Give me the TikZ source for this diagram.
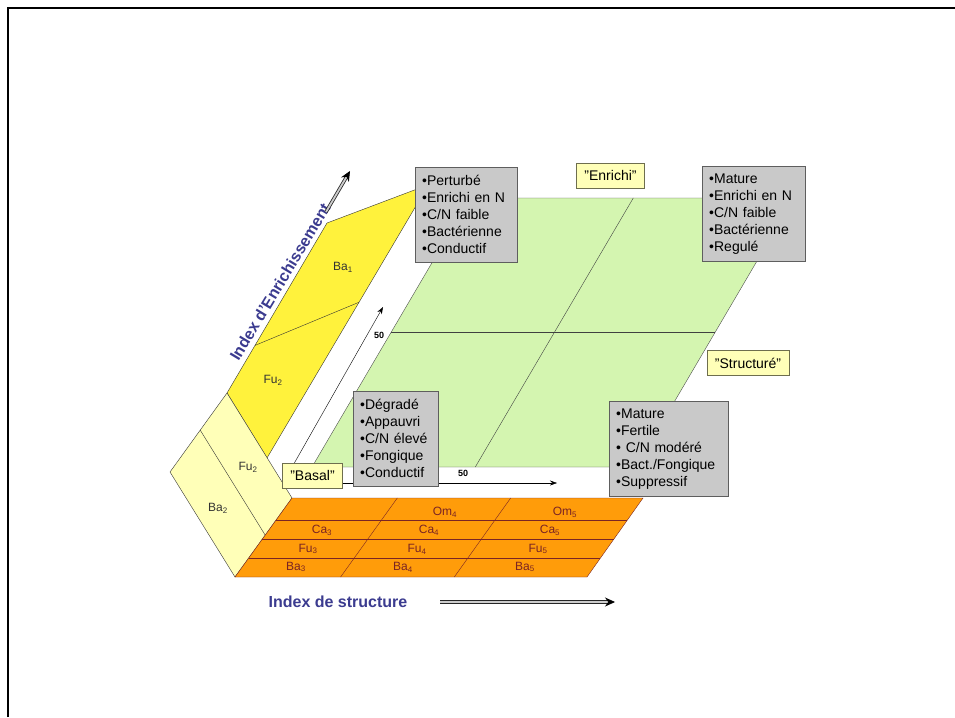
\documentclass[tikz,border=0pt]{standalone}
\usepackage{fontspec}
\setmainfont{Liberation Sans}
\usetikzlibrary{arrows.meta,calc}
\definecolor{planegreen}{HTML}{D4F5B0}
\definecolor{brightyellow}{HTML}{FFF23C}
\definecolor{paleyellow}{HTML}{FFFFB8}
\definecolor{floororange}{HTML}{FF9C0A}
\definecolor{maroonline}{HTML}{7A2424}
\definecolor{boxfill}{HTML}{C9C9C9}
\definecolor{boxedge}{HTML}{5E5E5E}
\definecolor{tagedge}{HTML}{6E6E4E}
\definecolor{indexblue}{HTML}{3B3B8F}

\tikzset{
  infobox/.style={draw=boxedge, fill=boxfill, anchor=north west, align=left,
    text width=#1, inner xsep=7pt, minimum height=95pt,
    font=\fontsize{14}{17}\selectfont},
  tagbox/.style={draw=tagedge, fill=paleyellow, inner xsep=8pt,
    minimum height=25pt, font=\fontsize{14}{17}\selectfont},
  celllabel/.style={text=maroonline, font=\fontsize{12}{14}\selectfont},
  facelabel/.style={text=black!80, font=\fontsize{12}{14}\selectfont},
  scalelabel/.style={font=\bfseries\fontsize{9}{10}\selectfont},
  indexlabel/.style={text=indexblue, font=\bfseries\fontsize{16}{18}\selectfont},
  indexarrow/.style={draw=black!85, double=gray!40, double distance=1.8pt,
    line width=0.8pt, -{Stealth[length=10pt,width=9pt,black]}},
}

\begin{document}
\begin{tikzpicture}[x=1pt,y=-1pt]
  \useasboundingbox (0,0) rectangle (955,717);
  % slide frame, only left and top edges show
  \draw[line width=2.5pt] (8,717) -- (8,8) -- (955,8);

  % green plane (top face)
  \coordinate (gBL) at (312,467);
  \coordinate (gBR) at (636,467);
  \coordinate (gTR) at (794,198);
  \coordinate (gTL) at (470,198);
  \filldraw[fill=planegreen, draw=black!70] (gBL) -- (gBR) -- (gTR) -- (gTL) -- cycle;
  \draw[black!75] ($(gBL)!.5!(gTL)$) -- ($(gBR)!.5!(gTR)$);
  \draw[black!75] ($(gBL)!.504!(gBR)$) -- ($(gTL)!.504!(gTR)$);

  % bright yellow face (Ba1 / Fu2)
  \coordinate (yB) at (227,393);
  \coordinate (yR) at (267,458);
  \coordinate (yT) at (428.5,184.7);
  \coordinate (yL) at (327,223);
  \filldraw[fill=brightyellow, draw=black!80] (yB) -- (yR) -- (yT) -- (yL) -- cycle;
  \draw[black!80] ($(yB)!.28!(yL)$) -- ($(yR)!.57!(yT)$);

  % pale yellow face (Ba2 / Fu2)
  \coordinate (pB) at (235,577);
  \coordinate (pR) at (292,498);
  \coordinate (pL) at (170,472);
  \filldraw[fill=paleyellow, draw=black!80] (pB) -- (pR) -- (yB) -- (pL) -- cycle;
  \draw[black!80] ($(pL)!.53!(yB)$) -- ($(pB)!.53!(pR)$);

  % orange floor (Om / Ca / Fu / Ba rows)
  \coordinate (oBL) at (235,577);
  \coordinate (oBR) at (587,577);
  \coordinate (oTR) at (643,498);
  \coordinate (oTL) at (292,498);
  \filldraw[fill=floororange, draw=maroonline] (oBL) -- (oBR) -- (oTR) -- (oTL) -- cycle;
  \foreach \f in {0.24,0.48,0.72}
    \draw[maroonline] ($(oBL)!\f!(oTL)$) -- ($(oBR)!\f!(oTR)$);
  \foreach \f in {0.30,0.623}
    \draw[maroonline] ($(oBL)!\f!(oBR)$) -- ($(oTL)!\f!(oTR)$);

  \node[celllabel] (om4) at (445,512) {Om\textsubscript{4}};
  \node[celllabel] (om5) at (565,512) {Om\textsubscript{5}};
  \node[celllabel] (ca3) at (322,530) {Ca\textsubscript{3}};
  \node[celllabel] (ca4) at (429,530) {Ca\textsubscript{4}};
  \node[celllabel] (ca5) at (550,530) {Ca\textsubscript{5}};
  \node[celllabel] (fu3) at (308,549) {Fu\textsubscript{3}};
  \node[celllabel] (fu4) at (417,549) {Fu\textsubscript{4}};
  \node[celllabel] (fu5) at (538,549) {Fu\textsubscript{5}};
  \node[celllabel] (ba3) at (296,567) {Ba\textsubscript{3}};
  \node[celllabel] (ba4) at (403,567) {Ba\textsubscript{4}};
  \node[celllabel] (ba5) at (525,567) {Ba\textsubscript{5}};

  \node[facelabel] (ba1) at (343,267) {Ba\textsubscript{1}};
  \node[facelabel] (fu2a) at (273,380) {Fu\textsubscript{2}};
  \node[facelabel] (fu2b) at (248,467) {Fu\textsubscript{2}};
  \node[facelabel] (ba2) at (218,508) {Ba\textsubscript{2}};

  % scale arrows with 50 marks
  \coordinate (orig) at (283,483);
  \coordinate (upend) at (383,307);
  \coordinate (rightend) at (557,483);
  \draw[-{Stealth[length=7pt,width=5pt]}] (orig) -- (upend);
  \draw[-{Stealth[length=7pt,width=5pt]}] (orig) -- (rightend);
  \node[scalelabel] (fifty1) at (379,335) {50};
  \node[scalelabel] (fifty2) at (463,473) {50};

  % grey description boxes
  \node[infobox=88pt] (perturbe) at (415,167)
    {•Perturbé\\•Enrichi en N\\•C/N faible\\•Bactérienne\\•Conductif};
  \node[infobox=89pt] (maturetop) at (702,166)
    {•Mature\\•Enrichi en N\\•C/N faible\\•Bactérienne\\•Regulé};
  \node[infobox=71pt] (degrade) at (353,391)
    {•Dégradé\\•Appauvri\\•C/N élevé\\•Fongique\\•Conductif};
  \node[infobox=105pt] (maturebot) at (609,401)
    {•Mature\\•Fertile\\• C/N modéré\\•Bact./Fongique\\•Suppressif};

  % state tags
  \node[tagbox] (enrichi) at (610.5,175.5) {"Enrichi"};
  \node[tagbox] (structure) at (748,363) {"Structuré"};
  \node[tagbox] (basal) at (312.5,475.5) {"Basal"};

  % axis titles
  \node[indexlabel, rotate=59] (idxenr) at (280,282) {Index d'Enrichissement};
  \coordinate (enrA) at (326,212);
  \coordinate (enrB) at (350,171);
  \draw[indexarrow] (enrA) -- (enrB);
  \node[indexlabel] (idxstr) at (338,602) {Index de structure};
  \coordinate (strA) at (440,602);
  \coordinate (strB) at (615,602);
  \draw[indexarrow] (strA) -- (strB);
\end{tikzpicture}
\end{document}
